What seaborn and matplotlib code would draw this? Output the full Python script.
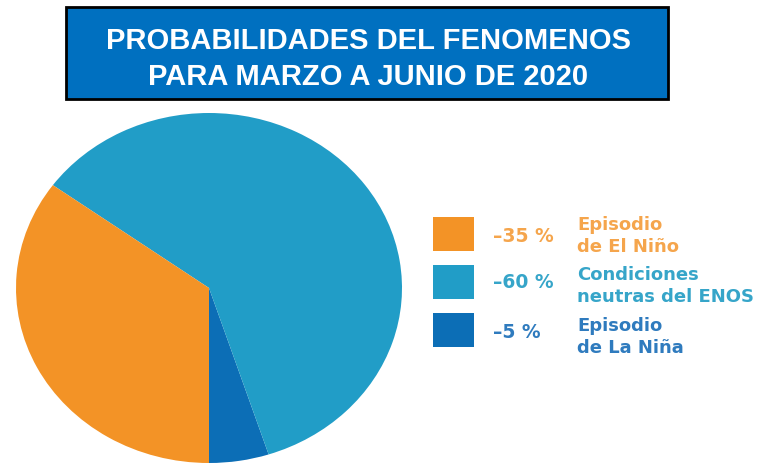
import matplotlib
matplotlib.use("Agg")
import matplotlib.pyplot as plt
import seaborn as sns
from matplotlib.patches import Rectangle

sns.set_theme(style="white")
plt.rcParams['font.family'] = ['Liberation Sans', 'DejaVu Sans']

# Data
labels = ["Episodio\nde La Niña", "Condiciones\nneutras del ENOS", "Episodio\nde El Niño"]
values = [5, 60, 35]
pct_labels = ["–5 %", "–60 %", "–35 %"]
title_lines = ["PROBABILIDADES DEL FENOMENOS", "PARA MARZO A JUNIO DE 2020"]

colors = sns.color_palette(["#0C6EB6", "#219DC7", "#F39326"])
text_colors = ["#2F7BBE", "#36A5C9", "#F5A54C"]

W, H = 767, 466
fig = plt.figure(figsize=(W / 100, H / 100), dpi=100)

def fx(x):
    return x / W

def fy(y):
    return 1 - y / H

# Pie (elliptical, as in the reference)
left, right, top, bottom = 16, 402, 113, 463
ax = fig.add_axes([fx(left), fy(bottom), (right - left) / W, (bottom - top) / H])
ax.pie(values, colors=colors, startangle=270, counterclock=True,
       wedgeprops=dict(linewidth=0))
ax.set_aspect('auto')
ax.set_xlim(-1, 1)
ax.set_ylim(-1, 1)
ax.axis('off')

# Title box
tb = Rectangle((fx(66), fy(99)), (668 - 66) / W, (99 - 7) / H, transform=fig.transFigure,
               facecolor="#0070C0", edgecolor="black", linewidth=2, zorder=5)
fig.add_artist(tb)
fig.text(fx(368), fy(41), title_lines[0], ha="center", va="center", color="white",
         fontsize=21, fontweight="bold", zorder=6)
fig.text(fx(368), fy(77), title_lines[1], ha="center", va="center", color="white",
         fontsize=21, fontweight="bold", zorder=6)

# Legend (drawn in order El Niño, neutral, La Niña from top)
rows = [(2, 217, 236, 236), (1, 265, 283, 286), (0, 313, 332, 337)]
for idx, ytop, ypct, ylab in rows:
    sq = Rectangle((fx(433), fy(ytop + 34)), 41 / W, 34 / H, transform=fig.transFigure,
                   facecolor=colors[idx], edgecolor="none")
    fig.add_artist(sq)
    fig.text(fx(493), fy(ypct), pct_labels[idx], ha="left", va="center",
             color=text_colors[idx], fontsize=13.5, fontweight="bold",
             family=['DejaVu Sans'])
    fig.text(fx(577), fy(ylab), labels[idx], ha="left", va="center",
             color=text_colors[idx], fontsize=13, fontweight="bold", linespacing=1.25,
             family=['DejaVu Sans'])

fig.savefig("out.png", dpi=100, facecolor="white")
